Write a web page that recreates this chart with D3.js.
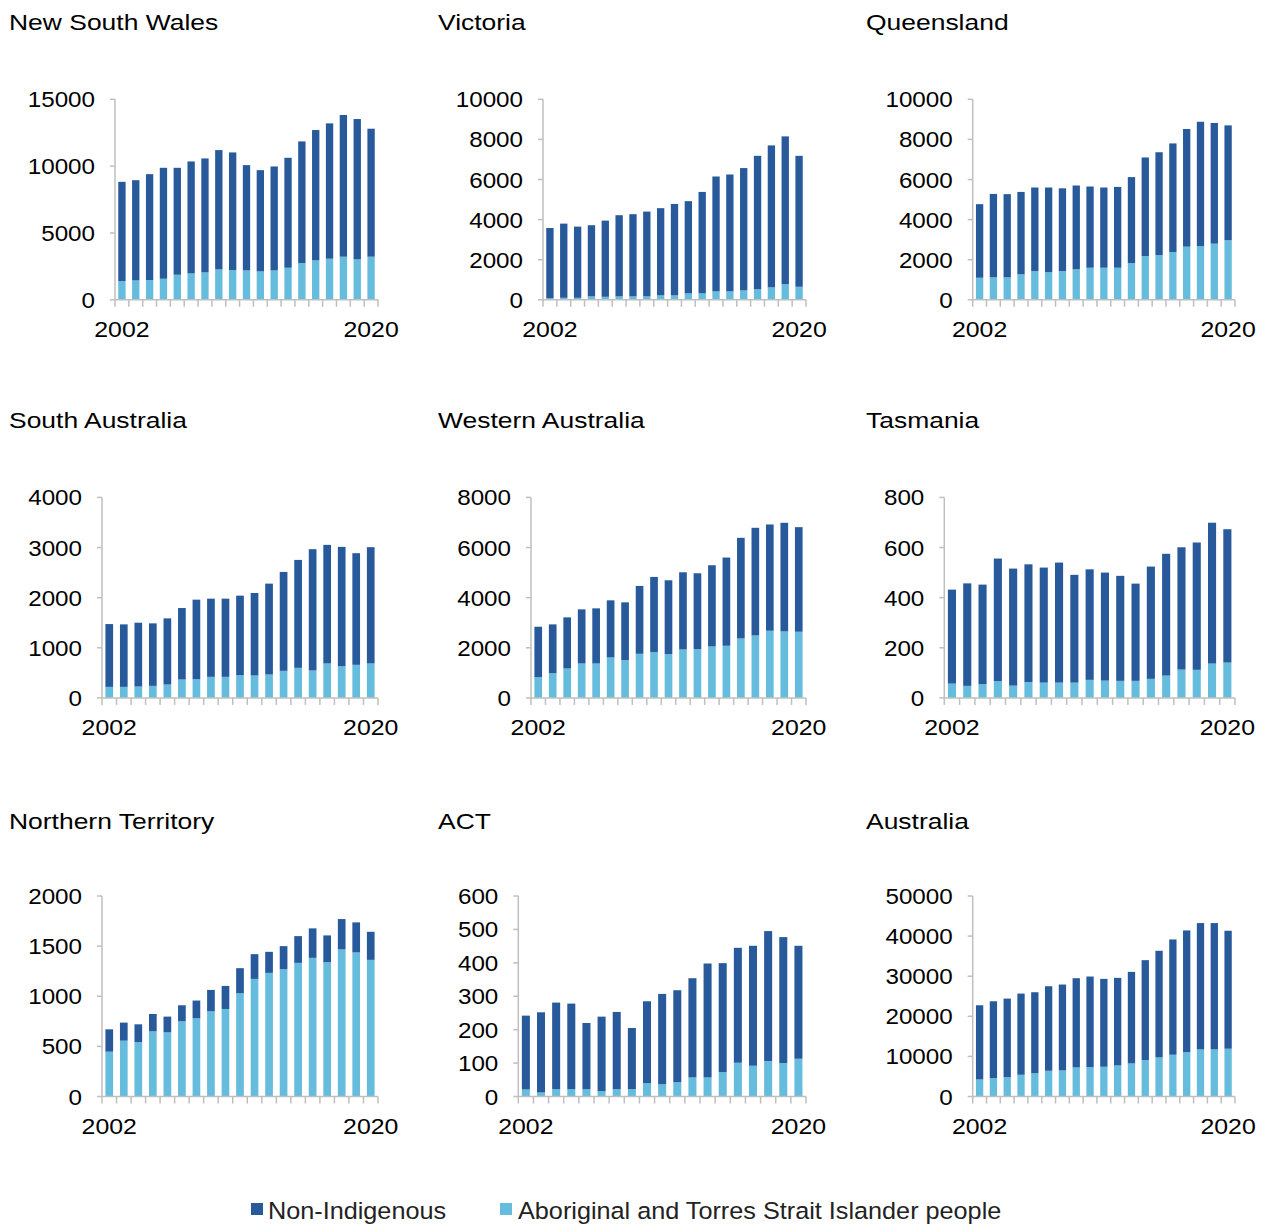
<!DOCTYPE html>
<html>
<head>
<meta charset="utf-8">
<script src="https://cdn.jsdelivr.net/npm/d3@7"></script>
<style>
  html, body { margin: 0; padding: 0; background: #ffffff; }
  svg { display: block; }
  text { font-family: Arial, "Liberation Sans", Helvetica, sans-serif; fill: #000; }
</style>
</head>
<body>
<svg id="chart" width="1267" height="1225"></svg>
<script>
// ---------------- DATA ----------------
const years = [2002, 2003, 2004, 2005, 2006, 2007, 2008, 2009, 2010, 2011,
               2012, 2013, 2014, 2015, 2016, 2017, 2018, 2019, 2020];
const seriesNames = ["Non-Indigenous", "Aboriginal and Torres Strait Islander people"];

const nswAboriginal    = [1400, 1450, 1475, 1575, 1875, 1975, 2050, 2275, 2225, 2200, 2125, 2200, 2400, 2750, 2950, 3075, 3225, 3025, 3225];
const nswNonIndigenous = [7425, 7500, 7925, 8300, 8000, 8375, 8525, 8925, 8800, 7875, 7575, 7775, 8225, 9100, 9750, 10125, 10600, 10500, 9575];

const vicAboriginal    = [80, 100, 100, 170, 150, 170, 170, 170, 220, 220, 320, 320, 420, 420, 470, 530, 620, 780, 650];
const vicNonIndigenous = [3500, 3700, 3550, 3550, 3800, 4050, 4100, 4230, 4350, 4560, 4600, 5060, 5730, 5830, 6100, 6650, 7080, 7370, 6530];

const qldAboriginal    = [1100, 1120, 1120, 1270, 1430, 1380, 1430, 1520, 1600, 1600, 1600, 1830, 2180, 2230, 2380, 2650, 2680, 2800, 2970];
const qldNonIndigenous = [3670, 4160, 4150, 4110, 4170, 4220, 4130, 4180, 4050, 4000, 4030, 4290, 4920, 5130, 5420, 5870, 6200, 6020, 5730];

const saAboriginal     = [220, 220, 227, 240, 267, 367, 373, 420, 420, 453, 447, 467, 540, 600, 547, 687, 633, 660, 687];
const saNonIndigenous  = [1253, 1247, 1273, 1247, 1320, 1426, 1587, 1560, 1560, 1587, 1646, 1813, 1973, 2153, 2420, 2366, 2380, 2227, 2320];

const waAboriginal     = [827, 987, 1173, 1373, 1373, 1613, 1507, 1760, 1827, 1747, 1933, 1947, 2053, 2080, 2373, 2493, 2680, 2653, 2640];
const waNonIndigenous  = [2013, 1946, 2040, 2160, 2200, 2280, 2306, 2707, 3000, 2946, 3080, 3026, 3240, 3520, 4014, 4294, 4240, 4334, 4173];

const tasAboriginal    = [57, 48, 55, 67, 49, 63, 61, 61, 61, 72, 69, 68, 68, 76, 89, 113, 112, 137, 141];
const tasNonIndigenous = [375, 409, 397, 489, 467, 470, 459, 479, 430, 441, 431, 419, 388, 448, 486, 488, 508, 562, 532];

const ntAboriginal     = [447, 557, 543, 650, 640, 750, 780, 850, 873, 1030, 1173, 1233, 1270, 1333, 1383, 1340, 1467, 1437, 1363];
const ntNonIndigenous  = [223, 180, 177, 173, 157, 160, 177, 213, 230, 250, 247, 210, 230, 267, 294, 267, 303, 300, 280];

const actAboriginal    = [21, 12, 22, 22, 22, 16, 22, 22, 40, 37, 43, 57, 57, 73, 101, 92, 106, 100, 113];
const actNonIndigenous = [221, 240, 259, 256, 198, 223, 231, 183, 245, 270, 275, 297, 341, 326, 344, 359, 389, 377, 338];

const ausAboriginal    = [4250, 4583, 4833, 5417, 5833, 6417, 6500, 7250, 7333, 7417, 7750, 8250, 9083, 9750, 10417, 11083, 11750, 11750, 11917];
const ausNonIndigenous = [18500, 19167, 19584, 20250, 20167, 21083, 21417, 22250, 22584, 21916, 21833, 22833, 24917, 26583, 28750, 30334, 31500, 31500, 29416];

const nswTicks = [0, 5000, 10000, 15000];
const vicTicks = [0, 2000, 4000, 6000, 8000, 10000];
const qldTicks = [0, 2000, 4000, 6000, 8000, 10000];
const saTicks  = [0, 1000, 2000, 3000, 4000];
const waTicks  = [0, 2000, 4000, 6000, 8000];
const tasTicks = [0, 200, 400, 600, 800];
const ntTicks  = [0, 500, 1000, 1500, 2000];
const actTicks = [0, 100, 200, 300, 400, 500, 600];
const ausTicks = [0, 10000, 20000, 30000, 40000, 50000];

const panelTitles = ["New South Wales", "Victoria", "Queensland",
                     "South Australia", "Western Australia", "Tasmania",
                     "Northern Territory", "ACT", "Australia"];

const panelData = [
  [nswAboriginal, nswNonIndigenous, nswTicks],
  [vicAboriginal, vicNonIndigenous, vicTicks],
  [qldAboriginal, qldNonIndigenous, qldTicks],
  [saAboriginal,  saNonIndigenous,  saTicks],
  [waAboriginal,  waNonIndigenous,  waTicks],
  [tasAboriginal, tasNonIndigenous, tasTicks],
  [ntAboriginal,  ntNonIndigenous,  ntTicks],
  [actAboriginal, actNonIndigenous, actTicks],
  [ausAboriginal, ausNonIndigenous, ausTicks]
];

// ---------------- LAYOUT / STYLE ----------------
const COLOR_NON = "#285a9b";
const COLOR_ABO = "#66bcdc";
const AXIS_COLOR = "#bfbfbf";

const titleX = [9, 438, 866];
const titleBase = [29.5, 428, 828.5];
const rowTop = [99.3, 497.4, 896];
const plotH = 200.5;
const rightX = [378, 806, 1235];
const axisXs = [115, 543, 972.7, 102, 531, 944.3, 102, 518.3, 972.7];

const svg = d3.select("#chart");

function stretchedText(g, x, y, str, size, sx, anchor) {
  return g.append("text")
    .attr("transform", `translate(${x},${y}) scale(${sx},1)`)
    .attr("text-anchor", anchor || "start")
    .style("font-size", size + "px")
    .text(str);
}

panelData.forEach((pd, i) => {
  const [abo, non, ticks] = pd;
  const row = Math.floor(i / 3), col = i % 3;
  const x0 = axisXs[i], x1 = rightX[col];
  const top = rowTop[row], bottom = top + plotH;
  const g = svg.append("g");

  // title
  stretchedText(g, titleX[col], titleBase[row], panelTitles[i], 22.8, 1.16, "start");

  const x = d3.scaleBand().domain(years).range([x0, x1])
    .paddingInner(0.47).paddingOuter(0.235);
  const y = d3.scaleLinear().domain([ticks[0], ticks[ticks.length - 1]]).range([bottom, top]);

  const rows = years.map((yr, k) => ({ year: yr, abo: abo[k], non: non[k] }));
  const stack = d3.stack().keys(["abo", "non"])(rows);
  const colors = { abo: COLOR_ABO, non: COLOR_NON };

  stack.forEach(layer => {
    g.append("g").selectAll("rect").data(layer).enter().append("rect")
      .attr("x", d => x(d.data.year))
      .attr("width", x.bandwidth())
      .attr("y", d => y(d[1]))
      .attr("height", d => y(d[0]) - y(d[1]))
      .attr("fill", colors[layer.key]);
  });

  // y axis
  const yAxis = g.append("g");
  yAxis.append("line").attr("x1", x0).attr("x2", x0).attr("y1", y(ticks[ticks.length - 1])).attr("y2", bottom)
    .attr("stroke", AXIS_COLOR).attr("stroke-width", 1.5);
  ticks.forEach(t => {
    yAxis.append("line").attr("x1", x0 - 5).attr("x2", x0).attr("y1", y(t)).attr("y2", y(t))
      .attr("stroke", AXIS_COLOR).attr("stroke-width", 1.5);
    stretchedText(yAxis, x0 - 20, y(t) + 8, String(t), 22, 1.1, "end");
  });

  // x axis
  const xAxis = g.append("g");
  xAxis.append("line").attr("x1", x0).attr("x2", x1).attr("y1", bottom).attr("y2", bottom)
    .attr("stroke", AXIS_COLOR).attr("stroke-width", 1.5);
  const step = x.step();
  const edges = years.map(yr => x(yr) - (step - x.bandwidth()) / 2);
  edges.push(x1);
  edges.forEach(ex => {
    xAxis.append("line").attr("x1", ex).attr("x2", ex).attr("y1", bottom).attr("y2", bottom + 7)
      .attr("stroke", AXIS_COLOR).attr("stroke-width", 1.5);
  });
  const first = years[0], last = years[years.length - 1];
  stretchedText(xAxis, x(first) + x.bandwidth() / 2, bottom + 37.5, String(first), 22, 1.13, "middle");
  stretchedText(xAxis, x(last) + x.bandwidth() / 2, bottom + 37.5, String(last), 22, 1.13, "middle");
});

// ---------------- LEGEND ----------------
const legend = svg.append("g");
const legendItems = [
  { name: seriesNames[0], color: COLOR_NON, sx: 251, tx: 268 },
  { name: seriesNames[1], color: COLOR_ABO, sx: 500, tx: 518 }
];
legendItems.forEach(it => {
  legend.append("rect").attr("x", it.sx).attr("y", 1203).attr("width", 12).attr("height", 12).attr("fill", it.color);
  legend.append("text").attr("transform", `translate(${it.tx},1218.5) scale(1.03,1)`)
    .style("font-size", "24.5px").style("fill", "#222").text(it.name);
});
</script>
</body>
</html>
